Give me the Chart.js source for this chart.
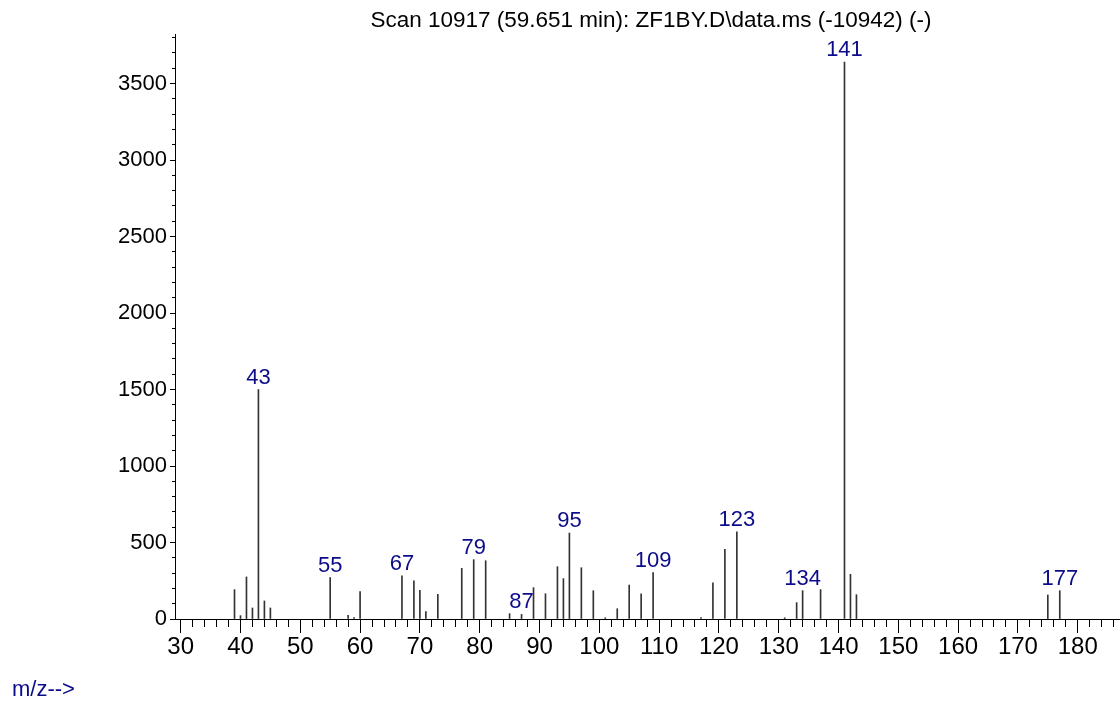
<!DOCTYPE html>
<html>
<head>
<meta charset="utf-8">
<script src="https://cdn.jsdelivr.net/npm/chart.js@4.4.1/dist/chart.umd.min.js"></script>
<style>
  html, body { margin: 0; padding: 0; background: #ffffff; }
  #wrap { width: 1120px; height: 707px; }
</style>
</head>
<body>
<div id="wrap"><canvas id="spectrum" width="1120" height="707"></canvas></div>
<script>
// Mass spectrum of scan 10917: m/z values and their abundances
const massToCharge = [39, 40, 41, 42, 43, 44, 45, 55, 58, 59, 60, 67, 69, 70, 71, 73, 77, 79, 81, 85, 87, 89,
  91, 93, 94, 95, 97, 99, 101, 103, 105, 107, 109, 117, 119, 121, 123, 131, 133, 134, 137, 141, 142, 143, 175, 177];
const abundance = [192, 22, 275, 72, 1500, 118, 72, 271, 24, 10, 179, 283, 249, 187, 48, 161, 331, 388, 381, 35, 30, 205,
  165, 342, 264, 562, 335, 185, 8, 67, 222, 165, 303, 10, 237, 455, 569, 8, 107, 185, 192, 3640, 292, 159, 157, 185];

// Peaks annotated with their m/z value
const labeledPeaks = [43, 55, 67, 79, 87, 95, 109, 123, 134, 141, 177];

// Axis tick labels
const xTickLabels = [30, 40, 50, 60, 70, 80, 90, 100, 110, 120, 130, 140, 150, 160, 170, 180];
const yTickLabels = [0, 500, 1000, 1500, 2000, 2500, 3000, 3500];

const titleText = 'Scan 10917 (59.651 min): ZF1BY.D\\data.ms (-10942) (-)';
const axisCaption = 'm/z-->';

const X_MIN = 29.05, X_MAX = 187.07;
const Y_MAX = 3824;
const FONT = '"Liberation Sans", Arial, sans-serif';
const NAVY = '#0c0c8a';

// minor tick positions: every 2 m/z units and every 100 counts
const xMinorTicks = [];
for (let v = 30; v <= 186; v += 2) xMinorTicks.push(v);
const yMinorTicks = [];
for (let v = 0; v <= 3800; v += 100) yMinorTicks.push(v);

const annotate = {
  id: 'annotate',
  afterDatasetsDraw(chart) {
    const ctx = chart.ctx;
    const meta = chart.getDatasetMeta(0);
    ctx.save();
    ctx.font = '22px ' + FONT;
    ctx.fillStyle = NAVY;
    ctx.textAlign = 'center';
    ctx.textBaseline = 'alphabetic';
    meta.data.forEach((el, i) => {
      if (labeledPeaks.includes(massToCharge[i])) {
        ctx.fillText(String(massToCharge[i]), el.x, el.y - 6);
      }
    });
    // scan header
    ctx.fillStyle = '#000000';
    ctx.font = '22.5px ' + FONT;
    ctx.fillText(titleText, 651, 27);
    // axis caption in the lower left corner
    ctx.textAlign = 'left';
    ctx.fillStyle = NAVY;
    ctx.font = '22px ' + FONT;
    ctx.fillText(axisCaption, 12, 696);
    ctx.restore();
  }
};

new Chart(document.getElementById('spectrum'), {
  type: 'bar',
  data: {
    datasets: [{
      data: massToCharge.map((m, i) => ({ x: m, y: abundance[i] })),
      backgroundColor: '#333333',
      borderWidth: 0,
      barThickness: 1
    }]
  },
  options: {
    responsive: false,
    animation: false,
    devicePixelRatio: 1,
    layout: { padding: { top: 34, right: 0, bottom: 0, left: 0 } },
    plugins: { legend: { display: false }, tooltip: { enabled: false }, title: { display: false } },
    scales: {
      x: {
        type: 'linear', axis: 'x', position: 'bottom', min: X_MIN, max: X_MAX, offset: false,
        afterBuildTicks: s => { s.ticks = xTickLabels.map(v => ({ value: v })); },
        afterFit: s => { s.height = 88; },
        grid: { offset: false, drawOnChartArea: false, drawTicks: true, tickLength: 14, color: '#000000', lineWidth: 1 },
        border: { display: true, color: '#000000', width: 1 },
        ticks: { font: { family: FONT, size: 24 }, color: '#000000', padding: 0, maxRotation: 0, autoSkip: false,
                 callback: v => String(v) }
      },
      xMinor: {
        type: 'linear', axis: 'x', position: { y: 0 }, min: X_MIN, max: X_MAX, offset: false,
        afterBuildTicks: s => { s.ticks = xMinorTicks.map(v => ({ value: v })); },
        afterFit: s => { s.height = 0; },
        grid: { offset: false, drawOnChartArea: false, drawTicks: true, tickLength: 8, color: '#000000', lineWidth: 1 },
        border: { display: false },
        ticks: { display: false }
      },
      y: {
        type: 'linear', axis: 'y', position: 'left', min: 0, max: Y_MAX,
        afterBuildTicks: s => { s.ticks = yTickLabels.map(v => ({ value: v })); },
        afterFit: s => { s.width = 175; },
        grid: { drawOnChartArea: false, drawTicks: true, tickLength: 5, color: '#000000', lineWidth: 1 },
        border: { display: true, color: '#000000', width: 1 },
        ticks: { font: { family: FONT, size: 22 }, color: '#000000', padding: 3, callback: v => String(v) }
      },
      yMinor: {
        type: 'linear', axis: 'y', position: { x: X_MIN }, min: 0, max: Y_MAX,
        afterBuildTicks: s => { s.ticks = yMinorTicks.map(v => ({ value: v })); },
        afterFit: s => { s.width = 0; },
        grid: { drawOnChartArea: false, drawTicks: true, tickLength: 3, color: '#000000', lineWidth: 1 },
        border: { display: false },
        ticks: { display: false }
      }
    }
  },
  plugins: [annotate]
});
</script>
</body>
</html>
